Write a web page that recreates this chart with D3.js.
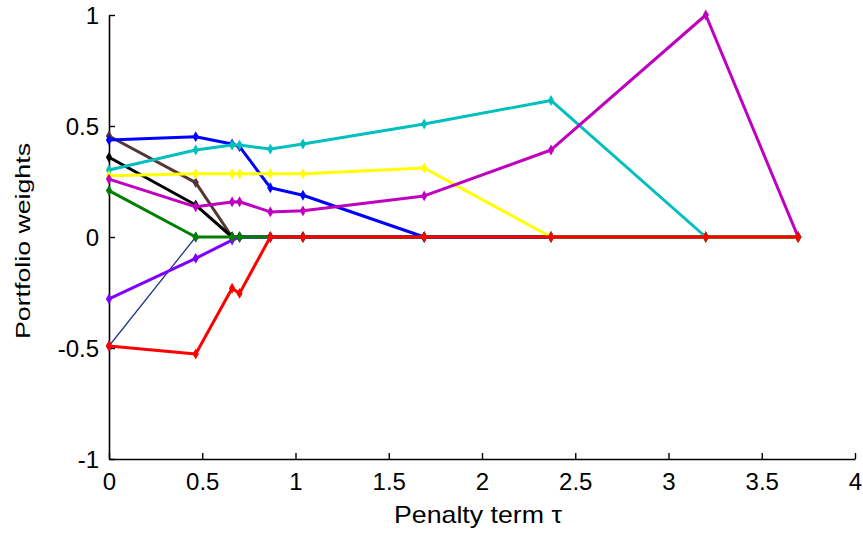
<!DOCTYPE html>
<html>
<head>
<meta charset="utf-8">
<script src="https://d3js.org/d3.v7.min.js"></script>
<style>
  body { margin: 0; background: #fff; }
  text { font-family: "Liberation Sans", Arial, sans-serif; fill: #000; }
</style>
</head>
<body>
<svg id="chart"></svg>
<script>
// penalty term values (x) and the weight path of each asset
var tau     = [0, 0.465, 0.66, 0.70, 0.865, 1.04, 1.69, 2.37, 3.20, 3.695];
var navy    = [-0.491, 0, 0, 0, 0, 0, 0, 0, 0, 0];
var brown   = [0.455, 0.245, 0, 0, 0, 0, 0, 0, 0, 0];
var black   = [0.359, 0.144, 0, 0, 0, 0, 0, 0, 0, 0];
var purple  = [-0.279, -0.096, -0.014, 0, 0, 0, 0, 0, 0, 0];
var blue    = [0.437, 0.452, 0.419, 0.407, 0.222, 0.188, 0, 0, 0, 0];
var cyan    = [0.302, 0.392, 0.414, 0.414, 0.396, 0.419, 0.509, 0.615, 0, 0];
var yellow  = [0.276, 0.285, 0.285, 0.285, 0.285, 0.285, 0.311, 0, 0, 0];
var magenta = [0.261, 0.136, 0.158, 0.159, 0.113, 0.118, 0.185, 0.392, 1.0, 0];
var green   = [0.209, 0, 0, 0, 0, 0, 0, 0, 0, 0];
var red     = [-0.491, -0.527, -0.231, -0.254, 0, 0, 0, 0, 0, 0];

var xTicks = [0, 0.5, 1, 1.5, 2, 2.5, 3, 3.5, 4];
var yTicks = [-1, -0.5, 0, 0.5, 1];

// drawing order, last one on top
var series = [
  {values: navy,    color: "#1f3a80", width: 1.3},
  {values: brown,   color: "#553535", width: 3},
  {values: black,   color: "#000000", width: 3},
  {values: purple,  color: "#8000ff", width: 3},
  {values: blue,    color: "#0000ff", width: 3},
  {values: cyan,    color: "#00bfbf", width: 3},
  {values: yellow,  color: "#ffff00", width: 3},
  {values: magenta, color: "#bf00bf", width: 3},
  {values: green,   color: "#008000", width: 3},
  {values: red,     color: "#ff0000", width: 3}
];

var W = 863, H = 533;
var margin = {top: 15, right: 8, bottom: 74, left: 109},
    width = W - margin.left - margin.right,
    height = H - margin.top - margin.bottom;

var svg = d3.select("#chart")
    .attr("width", W)
    .attr("height", H)
  .append("g")
    .attr("transform", "translate(" + margin.left + "," + margin.top + ")");

var x = d3.scaleLinear().domain([0, 4]).range([0, width]);
var y = d3.scaleLinear().domain([-1, 1]).range([height, 0]);

var fmt = function(d) { return String(d); };

/** axes, ticks pointing inside like matlab **/
var gx = svg.append("g")
    .attr("transform", "translate(0," + height + ")")
    .call(d3.axisBottom(x).tickValues(xTicks).tickSize(-6).tickSizeOuter(0).tickPadding(12).tickFormat(fmt));

var gy = svg.append("g")
    .call(d3.axisLeft(y).tickValues(yTicks).tickSize(-6).tickSizeOuter(0).tickPadding(10).tickFormat(fmt));

[gx, gy].forEach(function(g) {
  g.select(".domain").attr("stroke", "#000").attr("stroke-width", 1.6);
  g.selectAll(".tick line").attr("stroke", "#000").attr("stroke-width", 1.4);
  g.selectAll(".tick text").style("font-size", "24px").attr("fill", "#000");
});
gx.selectAll(".tick text").attr("dy", "0.71em").attr("y", 14);
gy.selectAll(".tick text").attr("dy", "0.34em");

/** lines **/
var line = d3.line()
    .x(function(d, i) { return x(tau[i]); })
    .y(function(d) { return y(d); });

var marker = d3.symbol().type(d3.symbolDiamond).size(34);

series.forEach(function(s) {
  svg.append("path")
      .datum(s.values)
      .attr("fill", "none")
      .attr("stroke", s.color)
      .attr("stroke-width", s.width)
      .attr("stroke-linejoin", "round")
      .attr("d", line);

  svg.selectAll(null)
      .data(s.values)
      .enter()
      .append("path")
      .attr("d", marker)
      .attr("fill", s.color)
      .attr("transform", function(d, i) {
        return "translate(" + x(tau[i]) + "," + y(d) + ")";
      });
});

/** axis labels **/
svg.append("text")
    .attr("x", width / 2 - 4)
    .attr("y", height + 64)
    .attr("text-anchor", "middle")
    .attr("textLength", 168)
    .attr("lengthAdjust", "spacingAndGlyphs")
    .style("font-size", "24px")
    .text("Penalty term \u03c4");

svg.append("text")
    .attr("transform", "translate(" + (30 - margin.left) + "," + (y(0) + 4) + ") rotate(-90)")
    .attr("text-anchor", "middle")
    .attr("textLength", 196)
    .attr("lengthAdjust", "spacingAndGlyphs")
    .style("font-size", "20px")
    .text("Portfolio weights");
</script>
</body>
</html>
